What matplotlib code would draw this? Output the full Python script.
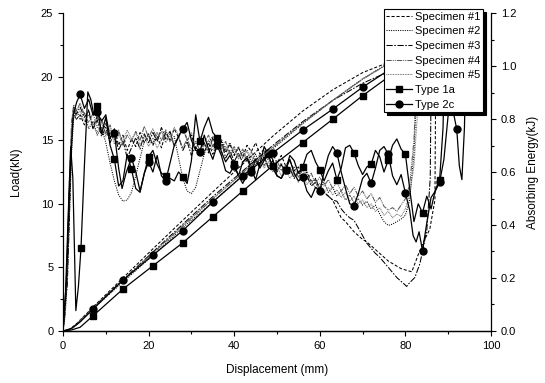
import matplotlib
matplotlib.use("Agg")
import matplotlib.pyplot as plt
from matplotlib.ticker import MultipleLocator, FormatStrFormatter

plt.rcParams['font.family'] = ['Liberation Sans', 'DejaVu Sans']
plt.rcParams['font.size'] = 8

# ---- load curves (kN) ----
head_x = [0, 0.5, 1, 1.5, 2, 2.5, 3]
body_x = list(range(4, 82))

s1_y = ([0, 1.5, 5, 10, 15, 17.3, 16.6]
        + [17.0, 16.2, 17.4, 16.0, 16.9, 15.6, 16.3, 15.1, 15.9, 14.6, 15.4, 14.2, 15.1, 14.5, 15.6, 14.8, 15.5]
        + [14.6, 15.3, 14.4, 15.6, 15.0, 15.9, 15.2, 16.1, 15.0, 15.4, 14.3, 15.0, 14.1, 14.8, 13.9, 14.6, 14.9, 14.0, 14.7, 13.8]
        + [14.4, 13.7, 14.6, 14.1, 14.8, 13.9, 14.3, 13.5, 14.0, 13.2, 13.8, 13.0, 13.4, 12.6, 12.9, 12.2, 12.5, 11.8, 11.9, 11.2]
        + [10.9, 10.6, 10.3, 9.6, 8.9, 8.6, 8.2, 7.8, 7.5, 7.2, 7.0, 6.7, 6.4, 6.1, 5.8, 5.5, 5.3, 5.1, 4.9, 4.8, 4.7]
        + [4.66, 6.0, 7.2, 8.0, 10.3, 26])
s1_tail = [81.5, 83, 84.5, 85.7, 86.9, 87.2]

s2_y = ([0, 1.2, 4, 9, 14, 16.8, 17.5]
        + [16.6, 17.2, 15.9, 16.5, 15.4, 16.0, 14.8, 13.2, 11.8, 10.7, 10.2, 10.3, 10.9, 12.2, 13.6, 14.9, 15.3]
        + [14.7, 15.6, 15.0, 15.8, 14.9, 15.3, 13.6, 12.0, 11.0, 10.8, 11.3, 12.6, 13.9, 14.8, 15.3, 14.6, 15.1, 14.2, 14.8, 13.9]
        + [14.5, 13.6, 14.2, 13.3, 13.9, 13.1, 13.7, 12.9, 13.4, 12.6, 13.2, 12.3, 12.9, 12.1, 12.6, 11.8, 12.3, 11.6, 12.0, 11.2]
        + [11.7, 10.9, 11.3, 10.6, 11.0, 10.3, 10.7, 10.1, 10.4, 9.9, 10.2, 9.6, 9.9, 9.2, 8.6, 8.3, 8.4, 8.6, 8.8, 9.1, 10.3]
        + [14, 20, 26])
s2_tail = [82, 82.8, 83.5]

s3_y = ([0, 2, 3.6, 9, 15.5, 17.6, 17.0]
        + [17.6, 16.8, 17.3, 15.9, 16.6, 15.3, 16.0, 14.8, 15.6, 14.2, 15.0, 13.6, 14.4, 15.2, 14.3, 15.5, 14.8]
        + [15.6, 14.9, 16.0, 15.1, 15.7, 14.5, 15.3, 14.2, 14.9, 13.8, 14.5, 13.9, 14.8, 14.0, 15.2, 14.3, 14.9, 13.6, 14.2, 13.3]
        + [14.0, 13.2, 13.8, 12.9, 13.6, 13.0, 13.7, 12.8, 13.4, 12.5, 13.1, 12.4, 12.8, 12.0, 12.5, 11.8, 12.2, 11.4, 11.7, 11.0]
        + [10.9, 10.6, 10.3, 10.2, 9.6, 9.2, 8.9, 8.7, 8.1, 7.5, 6.9, 6.5, 6.1, 5.8, 5.4, 5.0, 4.6, 4.2, 3.9, 3.6]
        + [3.5, 3.8, 4.2, 5.3, 7.9, 12, 26])
s3_tail = [80.3, 81, 82.2, 83.4, 85, 85.8, 86.2]

s4_y = ([0, 1.8, 6, 12, 16.5, 17.8, 17.2]
        + [17.9, 17.0, 16.4, 17.1, 16.0, 16.7, 15.5, 16.2, 15.0, 15.8, 14.6, 15.4, 14.9, 15.7, 15.0, 16.1, 15.2]
        + [15.9, 15.1, 15.7, 14.8, 15.5, 14.6, 15.2, 14.4, 15.1, 14.3, 14.9, 14.2, 14.8, 15.4, 14.5, 15.1, 14.3, 14.9, 13.9, 14.5]
        + [13.7, 14.3, 13.5, 14.1, 13.3, 13.9, 13.0, 13.6, 12.8, 13.4, 12.6, 13.1, 12.4, 12.9, 12.1, 12.7, 11.9, 12.4, 11.6, 12.1]
        + [11.4, 11.9, 11.2, 11.7, 11.0, 11.5, 10.8, 11.3, 10.6, 11.0, 10.4, 10.8, 10.1, 10.5, 9.8, 9.5, 9.7, 9.4, 9.9, 10.4, 11.5]
        + [15, 20, 26])
s4_tail = [82, 82.6, 83.2]

s5_y = ([0, 1.5, 5, 11, 16, 17.5, 16.9]
        + [17.3, 16.5, 17.0, 16.2, 15.6, 16.4, 15.3, 15.9, 14.7, 15.4, 14.9, 15.8, 15.1, 15.6, 14.6, 15.3, 14.5]
        + [15.2, 14.4, 15.0, 15.7, 15.1, 16.0, 15.4, 15.9, 15.0, 15.6, 14.7, 15.3, 14.5, 15.0, 14.2, 14.7, 13.9, 14.5, 13.8, 14.3]
        + [13.5, 14.1, 13.3, 13.8, 13.0, 13.6, 12.8, 13.3, 12.5, 13.0, 12.2, 12.8, 12.0, 12.5, 11.7, 12.2, 11.5, 11.9, 11.2, 11.6]
        + [10.9, 11.3, 10.7, 11.1, 10.5, 10.9, 10.2, 10.6, 10.0, 10.3, 9.7, 10.0, 9.4, 9.7, 9.1, 9.4, 8.9, 9.2, 9.0, 9.6, 10.8]
        + [13, 18, 26])
s5_tail = [82, 83, 83.8]

t1a_x = ([0, 0.6, 1.2, 1.8, 2.3, 3.0, 3.6, 4.2, 5.0, 5.8, 6.5, 7.2]
         + list(range(8, 89)) + [88.8, 89.4])
t1a_y = ([0, 3, 9, 14.5, 12, 1.6, 3.5, 6.5, 13, 18.8, 18.2, 17.0]
         + [17.7, 15.5, 16.8, 14.6, 13.5, 11.4, 11.8, 13.9, 12.7, 11.2, 10.9, 12.4, 13.7, 14.2, 13.1, 12.4, 12.2, 12.0, 11.8, 12.5]
         + [12.1, 11.6, 13.4, 17.0, 14.9, 16.0, 16.8, 15.6, 15.2, 14.1, 13.3, 13.8, 13.1, 12.2, 13.3, 13.6, 12.7, 11.9, 13.1, 14.5]
         + [13.9, 12.8, 12.2, 12.0, 12.66, 13.8, 13.4, 12.4, 12.9, 13.9, 14.2, 13.3, 12.66, 11.8, 12.6, 13.2, 11.9, 12.8, 14.4, 14.6]
         + [14.0, 13.0, 12.3, 12.9, 13.1, 14.2, 13.7, 12.5, 13.44, 14.6, 15.1, 14.3, 13.9, 11.2, 8.6, 10.0, 9.3, 10.6, 9.6, 11.1, 11.9]
         + [16, 26])
t1a_marks = [4.2, 8, 12, 16, 20, 24, 28, 32, 36, 40, 44, 48, 52, 56, 60, 64, 68, 72, 76, 80, 84, 88]

t2c_x = ([0, 0.8, 1.6, 2.4, 3.2] + list(range(4, 14)) + [13.8, 14.8]
         + list(range(16, 82)) + [81.8, 82.5, 83.2] + list(range(84, 91))
         + [90.6, 91.2, 92, 92.6, 93.2, 93.8, 94.4])
t2c_y = ([0, 4, 12, 17, 18]
         + [18.6, 17.5, 18.2, 17.0, 17.2, 16.5, 17.0, 15.2, 15.6, 12.8] + [11.2, 12.5]
         + [13.6, 12.5, 11.0, 12.4, 13.3, 12.5, 13.8, 12.2, 11.8, 13.2, 14.6, 15.3, 15.9, 16.4, 15.0, 14.2, 14.1, 15.4, 14.3, 13.5]
         + [14.6, 13.8, 12.6, 12.4, 13.0, 12.2, 11.6, 12.3, 12.5, 13.5, 12.8, 13.4, 14.0, 13.5, 12.2, 12.0, 12.66, 13.5, 12.4, 11.8]
         + [12.1, 11.0, 10.5, 11.3, 11.0, 12.5, 13.8, 14.5, 14.0, 12.5, 11.2, 10.0, 9.85, 10.8, 12.0, 12.4, 11.6, 12.8, 14.2, 14.5]
         + [13.9, 12.2, 11.5, 12.3, 10.85, 9.5]
         + [7.5, 7.0, 7.8] + [6.3, 8.5, 10.5, 11.0, 11.7, 13.5, 17.0]
         + [17.8, 17.2, 15.86, 13.0, 11.9, 16.0, 26])
t2c_marks = [4, 8, 12, 16, 20, 24, 28, 32, 36, 40, 44, 48, 52, 56, 60, 64, 68, 72, 76, 80, 84, 88, 92]

# ---- absorbed energy (kJ) ----
e_x = [0, 1.5, 3, 7, 14, 21, 28, 35, 42, 49, 56, 63, 70, 77, 84, 88]
e_s1 = [0, 0.006, 0.025, 0.09, 0.2, 0.31, 0.418, 0.525, 0.63, 0.735, 0.83, 0.91, 0.975, 1.02, 1.05, 1.09]
e_s2 = [0, 0.004, 0.02, 0.083, 0.185, 0.285, 0.39, 0.487, 0.587, 0.687, 0.782, 0.87, 0.952, 1.02, 1.07, 1.13]
e_s3 = [0, 0.005, 0.023, 0.087, 0.193, 0.298, 0.403, 0.507, 0.604, 0.7, 0.79, 0.87, 0.935, 0.985, 1.02, 1.07]
e_s4 = [0, 0.005, 0.024, 0.087, 0.19, 0.294, 0.396, 0.498, 0.597, 0.693, 0.785, 0.87, 0.95, 1.02, 1.07, 1.12]
e_s5 = [0, 0.005, 0.022, 0.085, 0.19, 0.293, 0.398, 0.5, 0.598, 0.693, 0.785, 0.87, 0.95, 1.018, 1.07, 1.12]
e_t2c_x = [0, 2, 4, 7, 14, 21, 28, 35, 42, 49, 56, 63, 70, 77, 84, 92]
e_t2c = [0, 0.01, 0.034, 0.082, 0.192, 0.286, 0.379, 0.487, 0.586, 0.672, 0.758, 0.837, 0.92, 0.994, 1.056, 1.1]
e_t1a_x = [0, 2, 4, 7, 14, 21, 28, 35, 42, 49, 56, 63, 70, 77, 84, 90]
e_t1a = [0, 0.004, 0.014, 0.057, 0.158, 0.246, 0.333, 0.431, 0.528, 0.624, 0.711, 0.799, 0.888, 0.97, 1.037, 1.094]
e_marks = [7, 14, 21, 28, 35, 42, 49, 56, 63, 70, 77, 84]

labels = ["Specimen #1", "Specimen #2", "Specimen #3", "Specimen #4", "Specimen #5", "Type 1a", "Type 2c"]
estilos = [(0, (3, 1.8)), (0, (1, 1.2)), (0, (6, 1.5, 1.5, 1.5)), (0, (5, 1, 1, 1, 1, 1)), (0, (0.8, 0.8))]
cores = ['black', 'black', 'black', '0.35', '0.4']


def idx(xs, marks):
    return [i for i, x in enumerate(xs) if x in marks]


fig = plt.figure(figsize=(5.45, 3.83), dpi=100)
ax = fig.add_axes([0.1156, 0.1358, 0.7853, 0.8302])
ax2 = ax.twinx()

spec_x = [head_x + body_x + s1_tail, head_x + body_x + s2_tail, head_x + body_x[:-1] + s3_tail,
          head_x + body_x + s4_tail, head_x + body_x + s5_tail]
spec_y = [s1_y, s2_y, s3_y, s4_y, s5_y]
spec_e = [e_s1, e_s2, e_s3, e_s4, e_s5]

handles = []
for xs, ys, es, ls, c in zip(spec_x, spec_y, spec_e, estilos, cores):
    h, = ax.plot(xs, ys, linestyle=ls, color=c, lw=0.75)
    ax2.plot(e_x, es, linestyle=ls, color=c, lw=0.75)
    handles.append(h)

h, = ax.plot(t1a_x, t1a_y, '-', color='black', lw=0.9, marker='s', ms=4.5,
             markevery=idx(t1a_x, t1a_marks))
ax2.plot(e_t1a_x, e_t1a, '-', color='black', lw=0.9, marker='s', ms=4.5,
         markevery=idx(e_t1a_x, e_marks))
handles.append(h)
h, = ax.plot(t2c_x, t2c_y, '-', color='black', lw=0.9, marker='o', ms=5,
             markevery=idx(t2c_x, t2c_marks))
ax2.plot(e_t2c_x, e_t2c, '-', color='black', lw=0.9, marker='o', ms=5,
         markevery=idx(e_t2c_x, e_marks))
handles.append(h)

ax.set_xlim(0, 100)
ax.set_ylim(0, 25)
ax2.set_ylim(0, 1.2)
ax.xaxis.set_major_locator(MultipleLocator(20))
ax.xaxis.set_minor_locator(MultipleLocator(10))
ax.yaxis.set_major_locator(MultipleLocator(5))
ax.yaxis.set_minor_locator(MultipleLocator(2.5))
ax2.yaxis.set_major_locator(MultipleLocator(0.2))
ax2.yaxis.set_minor_locator(MultipleLocator(0.1))
ax2.yaxis.set_major_formatter(FormatStrFormatter('%.1f'))

for a in (ax, ax2):
    a.spines['top'].set_visible(False)
    for s in a.spines.values():
        s.set_linewidth(0.9)
    a.tick_params(which='major', direction='out', length=3.5, width=0.8, labelsize=8)
    a.tick_params(which='minor', direction='out', length=2, width=0.8)
ax.spines['right'].set_visible(False)
ax2.spines['left'].set_visible(False)

ax.set_xlabel("Displacement (mm)", fontsize=8.5)
ax.set_ylabel("Load(kN)", fontsize=8.5)
ax2.set_ylabel("Absorbing Energy(kJ)", fontsize=8.5)
ax.xaxis.set_label_coords(0.5, -0.105)
ax.yaxis.set_label_coords(-0.095, 0.5)
ax2.yaxis.set_label_coords(1.083, 0.5)

leg = ax2.legend(handles, labels, loc='upper right', bbox_to_anchor=(483 / 545, 1 - 9.3 / 383),
                 bbox_transform=fig.transFigure, borderaxespad=0, fancybox=False, framealpha=1,
                 edgecolor='black', shadow={'color': 'black', 'alpha': 1, 'ox': 2, 'oy': -2},
                 fontsize=8, handlelength=2.3, handletextpad=0.35, labelspacing=0.42, borderpad=0.2)
leg.get_frame().set_linewidth(0.8)

fig.savefig("out.png", dpi=100)
